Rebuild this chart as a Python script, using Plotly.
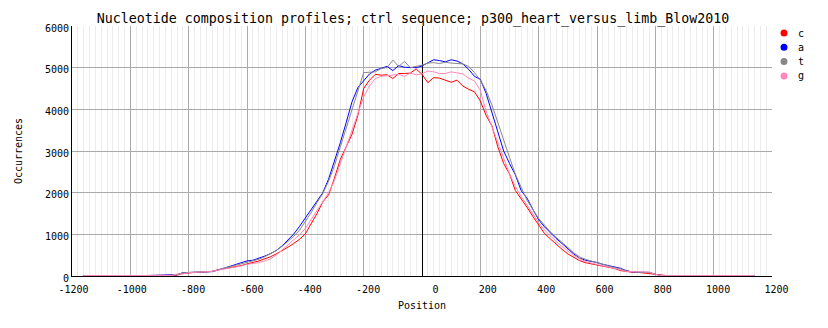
import plotly.graph_objects as go

# Position grid (bp relative to peak summit), 20 bp bins
positions = list(range(-1160, 1141, 20))

# Occurrence counts per nucleotide, one value per position bin
count_c = [
    8, 10, 9, 11, 8, 10, 9, 8, 10, 9, 8, 10, 9, 11, 10, 12,
    20, 60, 80, 85, 90, 95, 110, 150, 175, 200,
    220, 250, 290, 320, 360, 410, 460, 530, 600, 690,
    780, 880, 1010, 1250, 1500, 1780, 1950, 2350, 2800, 3100,
    3400, 3850, 4500, 4700, 4840, 4820, 4830, 4740, 4860, 4860,
    4870, 4970, 4840, 4640, 4760, 4750, 4700, 4650, 4700, 4560,
    4480, 4420, 4200, 3850, 3600, 3100, 2700, 2450, 2050, 1860,
    1650, 1430, 1210, 1020, 890, 760, 640, 530, 440, 370,
    320, 290, 260, 230, 200, 180, 130, 105, 90, 88,
    70, 60, 40,
    12, 9, 8, 8, 9, 8, 8, 9, 8, 8, 9, 8, 8, 9, 12, 8, 8,
]
count_a = [
    10, 12, 9, 11, 10, 12, 10, 9, 11, 10, 9, 12, 10, 11, 12, 14,
    30, 80, 88, 90, 92, 96, 104, 140, 185, 225,
    262, 305, 362, 378, 420, 475, 535, 610, 720, 860,
    1005, 1190, 1390, 1600, 1800, 2000, 2330, 2740, 3200, 3680,
    4180, 4520, 4680, 4850, 4940, 4990, 5030, 4930, 5050, 5010,
    5000, 5000, 5040, 5120, 5190, 5170, 5140, 5190, 5160, 5090,
    4960, 4790, 4720, 4380, 3900, 3450, 3000, 2700, 2430, 2050,
    1870, 1600, 1350, 1180, 1030, 900, 780, 650, 530, 430,
    380, 350, 325, 280, 245, 205, 185, 130, 100, 90,
    90, 88, 40,
    10, 8, 9, 8, 8, 9, 8, 8, 9, 8, 8, 9, 8, 8, 9, 8, 8,
]
count_t = [
    9, 11, 10, 12, 9, 11, 10, 9, 10, 11, 9, 10, 11, 10, 12, 13,
    35, 75, 85, 90, 92, 100, 110, 150, 185, 215,
    245, 280, 330, 360, 400, 460, 530, 610, 710, 830,
    950, 1100, 1300, 1520, 1760, 1980, 2280, 2650, 3100, 3550,
    4000, 4450, 4880, 4890, 4900, 4980, 5000, 5180, 5030, 5150,
    5000, 5030, 5060, 5110, 5120, 5100, 5130, 5110, 5100, 5090,
    5030, 4880, 4700, 4450, 4100, 3700, 3250, 2850, 2440, 2150,
    1820, 1600, 1380, 1220, 1060, 930, 800, 680, 560, 460,
    400, 360, 320, 270, 230, 200, 170, 120, 100, 95,
    90, 80, 40,
    11, 9, 8, 9, 8, 8, 9, 8, 8, 9, 8, 8, 9, 8, 8, 9, 8,
]
count_g = [
    8, 8, 9, 8, 8, 9, 8, 8, 9, 8, 8, 9, 8, 9, 10, 12,
    45, 50, 80, 85, 90, 95, 110, 140, 165, 190,
    210, 240, 280, 300, 320, 360, 410, 500, 620, 740,
    860, 990, 1140, 1350, 1580, 1800, 2000, 2300, 2700, 3100,
    3500, 3950, 4300, 4560, 4740, 4790, 4810, 4820, 4840, 4790,
    4870, 4830, 4850, 4920, 4900, 4860, 4860, 4900, 4880, 4850,
    4750, 4680, 4450, 3950, 3580, 3200, 2800, 2450, 2150, 1900,
    1700, 1480, 1280, 1100, 960, 830, 710, 600, 500, 420,
    350, 310, 280, 240, 210, 185, 150, 110, 100, 100,
    100, 90, 40,
    10, 8, 8, 8, 8, 8, 8, 8, 8, 8, 8, 8, 8, 8, 8, 8, 8,
]

series_names = ["c", "a", "t", "g"]
series_colors = ["#ff0000", "#0000ff", "#888888", "#ff88bb"]
series_values = [count_c, count_a, count_t, count_g]

x_ticks = [-1200, -1000, -800, -600, -400, -200, 0, 200, 400, 600, 800, 1000, 1200]
x_tick_labels = ["-1200", "-1000", "-800", "-600", "-400", "-200", "0",
                 "200", "400", "600", "800", "1000", "1200"]
y_ticks = [0, 1000, 2000, 3000, 4000, 5000, 6000]
y_tick_labels = ["0", "1000", "2000", "3000", "4000", "5000", "6000"]

MONO = "DejaVu Sans Mono"
PLOT_W, PLOT_H = 700, 250  # plot area in pixels

fig = go.Figure()
for name, color, values in zip(series_names, series_colors, series_values):
    fig.add_trace(go.Scatter(
        x=positions, y=values, mode="lines", name=name,
        line=dict(color=color, width=1),
    ))

# Key at the right of the plot: coloured dot + letter per series
key_dot_x = 1 + 12 / PLOT_W
key_text_x = 1 + 24 / PLOT_W
key_top = 1 - 7 / PLOT_H
key_step = 14.3 / PLOT_H
for i, (name, color) in enumerate(zip(series_names, series_colors)):
    ky = key_top - i * key_step
    fig.add_shape(
        type="circle", xref="paper", yref="paper",
        xsizemode="pixel", ysizemode="pixel",
        xanchor=key_dot_x, yanchor=ky, x0=-3.5, x1=3.5, y0=-3.5, y1=3.5,
        fillcolor=color, line=dict(width=0),
    )
    fig.add_annotation(
        x=key_text_x, y=ky, xref="paper", yref="paper",
        xanchor="left", yanchor="middle", showarrow=False,
        text=name, font=dict(family=MONO, size=10, color="black"),
    )

fig.update_layout(
    width=828, height=328,
    margin=dict(l=72, r=56, t=26, b=52),
    paper_bgcolor="white", plot_bgcolor="white",
    font=dict(family=MONO, size=10, color="black"),
    title=dict(
        text="Nucleotide composition profiles; ctrl sequence; p300_heart_versus_limb_Blow2010",
        font=dict(family=MONO, size=13.3, color="black"),
        x=413 / 828, xref="container", xanchor="center",
        y=1 - 18 / 328, yref="container", yanchor="middle",
    ),
    showlegend=False,
)

fig.update_xaxes(
    range=[-1200, 1200],
    tickmode="array", tickvals=x_ticks, ticktext=x_tick_labels,
    ticks="", ticklabelposition="outside left", ticklabelshift=17,
    ticklabelstandoff=4,
    tickfont=dict(family=MONO, size=10, color="black"),
    showgrid=True, gridcolor="#aaaaaa", gridwidth=1,
    minor=dict(tickmode="linear", tick0=0, dtick=20, showgrid=True,
               gridcolor="#ececec", gridwidth=1),
    zeroline=True, zerolinecolor="black", zerolinewidth=1,
    showline=True, linecolor="black", linewidth=1, mirror=False,
    title=dict(text="Position", font=dict(family=MONO, size=10, color="black"), standoff=7),
)
fig.update_yaxes(
    range=[0, 6000],
    tickmode="array", tickvals=y_ticks, ticktext=y_tick_labels,
    ticks="", ticklabelshift=2,
    tickfont=dict(family=MONO, size=10, color="black"),
    showgrid=True, gridcolor="#aaaaaa", gridwidth=1,
    zeroline=False,
    showline=True, linecolor="black", linewidth=1, mirror=False,
    title=dict(text="Occurrences", font=dict(family=MONO, size=10, color="black"), standoff=20),
)

fig.write_html("out.html")
